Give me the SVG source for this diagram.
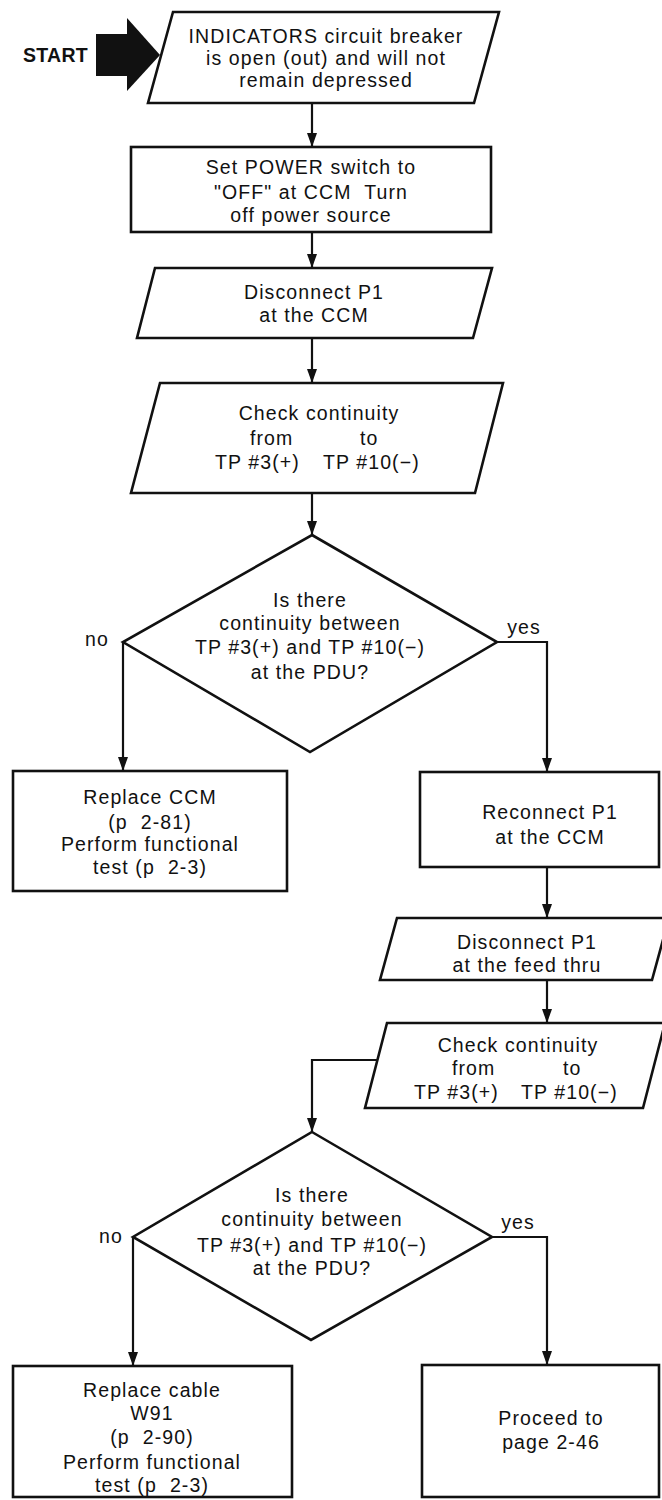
<svg xmlns="http://www.w3.org/2000/svg" width="662" height="1500" viewBox="0 0 662 1500">
<defs>
<style>
.shape{fill:#fff;stroke:#111;stroke-width:2.6;stroke-linejoin:miter}
.conn{fill:none;stroke:#111;stroke-width:2.2}
text{font-family:"Liberation Sans",Arial,Helvetica,sans-serif;font-size:19.5px;fill:#111;letter-spacing:1.1px}
.c{text-anchor:middle}
.start{font-weight:bold;font-size:19.5px;text-anchor:end;letter-spacing:0.3px}
</style>
<marker id="ah" markerUnits="userSpaceOnUse" markerWidth="14" markerHeight="10" refX="14" refY="5" orient="auto" viewBox="0 0 14 10">
<path d="M0,0 L14,5 L0,10 z" fill="#111"/>
</marker>
</defs>
<rect width="662" height="1500" fill="#fff"/>

<g id="start">
<text class="start" x="88" y="62">START</text>
<rect x="96" y="34" width="32" height="42" fill="#111"/>
<polygon points="127,18 160,55 127,91" fill="#111"/>
</g>

<g id="n1">
<polygon class="shape" points="173,12 499,12 474,103 148,103"/>
<text class="c" x="326" y="43">INDICATORS circuit breaker</text>
<text class="c" x="326" y="65">is open (out) and will not</text>
<text class="c" x="326" y="87">remain depressed</text>
</g>

<g id="n2">
<rect class="shape" x="131" y="147" width="360" height="85"/>
<text class="c" x="311" y="174">Set POWER switch to</text>
<text class="c" x="311" y="199">"OFF" at CCM&#160; Turn</text>
<text class="c" x="311" y="222">off power source</text>
</g>

<g id="n3">
<polygon class="shape" points="155,268 492,268 473,338 137,338"/>
<text class="c" x="314" y="299">Disconnect P1</text>
<text class="c" x="314" y="322">at the CCM</text>
</g>

<g id="n4">
<polygon class="shape" points="160,383 503,383 475,493 131,493"/>
<text class="c" x="319" y="420">Check continuity</text>
<text x="250" y="445">from</text>
<text x="360" y="445">to</text>
<text x="215" y="469">TP #3(+)</text>
<text x="323" y="469">TP #10(−)</text>
</g>

<g id="d1">
<polygon class="shape" points="312,535 497,642 310,752 123,642"/>
<text class="c" x="310" y="607">Is there</text>
<text class="c" x="310" y="630">continuity between</text>
<text class="c" x="310" y="654">TP #3(+) and TP #10(−)</text>
<text class="c" x="310" y="679">at the PDU?</text>
</g>

<g id="n5">
<rect class="shape" x="13" y="771" width="274" height="120"/>
<text class="c" x="150" y="804">Replace CCM</text>
<text class="c" x="150" y="829">(p&#160; 2-81)</text>
<text class="c" x="150" y="851">Perform functional</text>
<text class="c" x="150" y="874">test (p&#160; 2-3)</text>
</g>

<g id="n6">
<rect class="shape" x="420" y="772" width="239" height="95"/>
<text class="c" x="550" y="819">Reconnect P1</text>
<text class="c" x="550" y="844">at the CCM</text>
</g>

<g id="n7">
<polygon class="shape" points="397,918 669,918 652,980 380,980"/>
<text class="c" x="527" y="949">Disconnect P1</text>
<text class="c" x="527" y="972">at the feed thru</text>
</g>

<g id="n8">
<polygon class="shape" points="387,1023 665,1023 643,1108 365,1108"/>
<text class="c" x="518" y="1052">Check continuity</text>
<text x="452" y="1075">from</text>
<text x="563" y="1075">to</text>
<text x="414" y="1099">TP #3(+)</text>
<text x="521" y="1099">TP #10(−)</text>
</g>

<g id="d2">
<polygon class="shape" points="312,1132 492,1237 311,1340 133,1237"/>
<text class="c" x="312" y="1202">Is there</text>
<text class="c" x="312" y="1226">continuity between</text>
<text class="c" x="312" y="1252">TP #3(+) and TP #10(−)</text>
<text class="c" x="312" y="1275">at the PDU?</text>
</g>

<g id="n9">
<rect class="shape" x="13" y="1366" width="279" height="131"/>
<text class="c" x="152" y="1397">Replace cable</text>
<text class="c" x="152" y="1420">W91</text>
<text class="c" x="152" y="1444">(p&#160; 2-90)</text>
<text class="c" x="152" y="1469">Perform functional</text>
<text class="c" x="152" y="1492">test (p&#160; 2-3)</text>
</g>

<g id="n10">
<rect class="shape" x="422" y="1365" width="237" height="132"/>
<text class="c" x="551" y="1425">Proceed to</text>
<text class="c" x="551" y="1449">page 2-46</text>
</g>

<g id="connectors">
<path class="conn" marker-end="url(#ah)" d="M312,103 V147"/>
<path class="conn" marker-end="url(#ah)" d="M312,232 V268"/>
<path class="conn" marker-end="url(#ah)" d="M312,338 V383"/>
<path class="conn" marker-end="url(#ah)" d="M312,493 V535"/>
<path class="conn" marker-end="url(#ah)" d="M123,642 V771"/>
<path class="conn" marker-end="url(#ah)" d="M497,642 H547 V772"/>
<path class="conn" marker-end="url(#ah)" d="M547,867 V918"/>
<path class="conn" marker-end="url(#ah)" d="M547,980 V1023"/>
<path class="conn" marker-end="url(#ah)" d="M377,1060 H312 V1132"/>
<path class="conn" marker-end="url(#ah)" d="M133,1237 V1366"/>
<path class="conn" marker-end="url(#ah)" d="M492,1237 H547 V1365"/>
<text class="c" x="97" y="646">no</text>
<text class="c" x="524" y="634">yes</text>
<text class="c" x="111" y="1243">no</text>
<text class="c" x="518" y="1229">yes</text>
</g>
</svg>
